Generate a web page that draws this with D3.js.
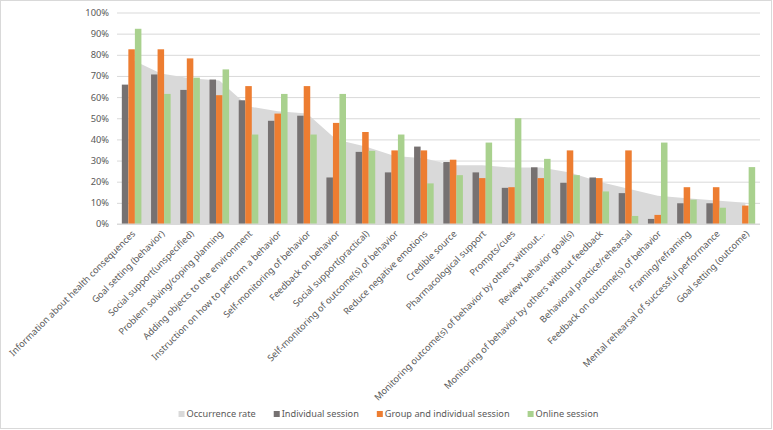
<!DOCTYPE html>
<html>
<head>
<meta charset="utf-8">
<script src="https://cdn.jsdelivr.net/npm/d3@7"></script>
<style>
    body { margin: 0; background: #fff; }
    text { font-family: "Noto Sans", "DejaVu Sans", sans-serif; fill: #595959; }
</style>
</head>
<body>
<div id="chart"></div>
<script>

// Behaviour change techniques (x categories)
const categories = [
    "Information about health consequences",
    "Goal setting (behavior)",
    "Social support(unspecified)",
    "Problem solving/coping planning",
    "Adding objects to the environment",
    "Instruction on how to perform a behavior",
    "Self-monitoring of behavior",
    "Feedback on behavior",
    "Social support(practical)",
    "Self-monitoring of outcome(s) of behavior",
    "Reduce negative emotions",
    "Credible source",
    "Pharmacological support",
    "Prompts/cues",
    "Monitoring outcome(s) of behavior by others without…",
    "Review behavior goal(s)",
    "Monitoring of behavior by others without feedback",
    "Behavioral practice/rehearsal",
    "Feedback on outcome(s) of behavior",
    "Framing/reframing",
    "Mental rehearsal of successful performance",
    "Goal setting (outcome)"
];

// values in percent
const occurrenceRate = [77.8, 71.1, 68.9, 67.8, 55.6, 53.3, 52.2, 40.0, 36.7, 32.2, 31.1,
    27.8, 27.8, 26.7, 26.7, 24.4, 20.0, 16.7, 13.3, 12.2, 11.1, 10.0];
const individualSession = [65.9, 70.7, 63.4, 68.3, 58.5, 48.8, 51.2, 22.0, 34.1, 24.4, 36.6,
    29.3, 24.4, 17.1, 26.8, 19.5, 22.0, 14.6, 2.4, 9.8, 9.8, 0];
const groupSession = [82.6, 82.6, 78.3, 60.9, 65.2, 52.2, 65.2, 47.8, 43.5, 34.8, 34.8,
    30.4, 21.7, 17.4, 21.7, 34.8, 21.7, 34.8, 4.3, 17.4, 17.4, 8.7];
const onlineSession = [92.3, 61.5, 69.2, 73.1, 42.3, 61.5, 42.3, 61.5, 34.6, 42.3, 19.2,
    23.1, 38.5, 50.0, 30.8, 23.1, 15.4, 3.8, 38.5, 11.5, 7.7, 26.9];

const yTicks = [0, 10, 20, 30, 40, 50, 60, 70, 80, 90, 100];

const series = [
    {name: "Individual session", values: individualSession, color: "#767171"},
    {name: "Group and individual session", values: groupSession, color: "#ED7D31"},
    {name: "Online session", values: onlineSession, color: "#A9D18E"}
];
const areaColor = "#D9D9D9";

const width = 773, height = 430;
const margin = {top: 12.5, right: 13, bottom: 206, left: 117};
const innerWidth = width - margin.left - margin.right;
const innerHeight = height - margin.top - margin.bottom;

const svg = d3.select("#chart").append("svg")
    .attr("width", width)
    .attr("height", height);

// chart border
svg.append("rect")
    .attr("x", 0.5).attr("y", 0.5)
    .attr("width", width - 2).attr("height", height - 2)
    .attr("fill", "#fff")
    .attr("stroke", "#D9D9D9");

const g = svg.append("g")
    .attr("transform", "translate(" + margin.left + "," + margin.top + ")");

// Scales
const x0 = d3.scaleBand()
    .domain(categories)
    .range([0, innerWidth])
    .paddingInner(0.33)
    .paddingOuter(0.165);

const x1 = d3.scaleBand()
    .domain(series.map(s => s.name))
    .range([0, x0.bandwidth()]);

const y = d3.scaleLinear()
    .domain([0, 100])
    .range([innerHeight, 0]);

// Gridlines + y axis
const yAxis = d3.axisLeft(y)
    .tickValues(yTicks)
    .tickSize(-innerWidth)
    .tickPadding(8)
    .tickFormat(d => d + "%");

g.append("g")
    .attr("class", "y-axis")
    .call(yAxis)
    .call(a => a.select(".domain").remove())
    .call(a => a.selectAll("line").attr("stroke", "#D9D9D9"))
    .call(a => a.selectAll("text").style("font-size", "9.3px").attr("fill", "#595959"));

// Occurrence rate area
const area = d3.area()
    .x((d, i) => x0(categories[i]) + x0.bandwidth() / 2)
    .y0(y(0))
    .y1(d => y(d));

g.append("path")
    .datum(occurrenceRate)
    .attr("fill", areaColor)
    .attr("d", area);

// Grouped bars
const groups = g.selectAll(".cat")
    .data(categories)
    .enter().append("g")
    .attr("class", "cat")
    .attr("transform", d => "translate(" + x0(d) + ",0)");

groups.selectAll("rect")
    .data((d, i) => series.map(s => ({name: s.name, value: s.values[i], color: s.color})))
    .enter().append("rect")
    .attr("x", d => x1(d.name))
    .attr("width", x1.bandwidth())
    .attr("y", d => y(d.value))
    .attr("height", d => y(0) - y(d.value))
    .attr("fill", d => d.color);

// x axis line
g.append("line")
    .attr("x1", 0).attr("x2", innerWidth)
    .attr("y1", innerHeight).attr("y2", innerHeight)
    .attr("stroke", "#D9D9D9");

// Rotated category labels
g.selectAll(".xlabel")
    .data(categories)
    .enter().append("text")
    .attr("class", "xlabel")
    .attr("text-anchor", "end")
    .attr("dy", "0.35em")
    .style("font-size", "9.2px")
    .attr("transform", d => "translate(" + (x0(d) + x0.bandwidth() / 2 + 2) + "," + (innerHeight + 8) + ") rotate(-45)")
    .text(d => d);

// Legend
const legendItems = [{name: "Occurrence rate", color: areaColor}].concat(series);
const legend = svg.append("g").attr("class", "legend");
let lx = 0;
legendItems.forEach(item => {
    let it = legend.append("g").attr("transform", "translate(" + lx + ",0)");
    it.append("rect")
        .attr("x", 0).attr("y", -6)
        .attr("width", 6).attr("height", 6)
        .attr("fill", item.color);
    let t = it.append("text")
        .attr("x", 8).attr("y", 0)
        .style("font-size", "9.2px")
        .text(item.name);
    lx += 8 + t.node().getComputedTextLength() + 18;
});
lx -= 18;
legend.attr("transform", "translate(" + (388.5 - lx / 2) + ",417)");

</script>
</body>
</html>
